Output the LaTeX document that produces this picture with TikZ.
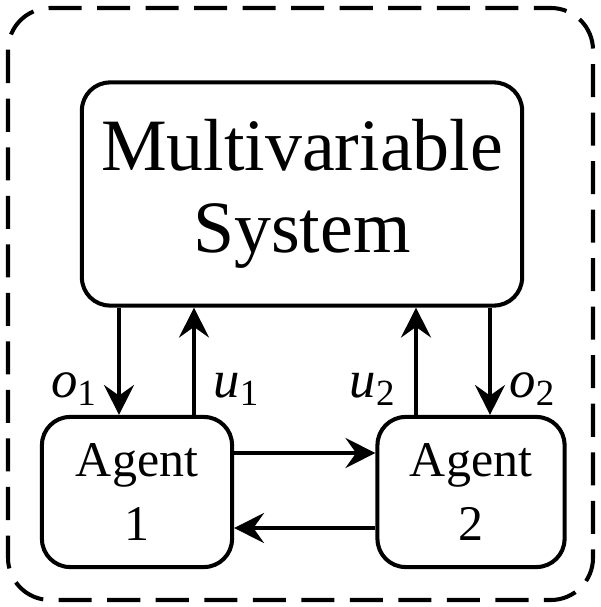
\documentclass[tikz,border=0pt]{standalone}
\usepackage{amsmath}
\usepackage{fontspec}
\setmainfont{Liberation Serif}
\usetikzlibrary{
	positioning,
	arrows.meta
}

\begin{document}
\begin{tikzpicture}[x=0.01cm,y=-0.01cm,
		block/.style={draw,line width=1.15pt,rounded corners=8pt,align=center,inner sep=0pt},
		flow/.style={line width=1.15pt,-{Stealth[length=8.5pt,width=8.5pt,inset=3pt]}},
		sig/.style={font=\fontsize{15}{15}\selectfont,inner sep=5pt}]
		\useasboundingbox (0,0) rectangle (600,607);

		% outer frame
		\draw[line width=1.15pt,dash pattern=on 9.4pt off 4.4pt,rounded corners=12pt]
			(8,8) rectangle (593,600);

		\node[block,minimum width=4.4cm,minimum height=2.23cm,
			font=\fontsize{21}{23.5}\selectfont] (sys) at (302,194) {Multivariable\\System};
		\node[block,minimum width=1.9cm,minimum height=1.5cm,
			font=\fontsize{14.2}{18}\selectfont] (ag1) at (137,492) {Agent\\1};
		\node[block,minimum width=1.87cm,minimum height=1.5cm,
			font=\fontsize{14.2}{18}\selectfont] (ag2) at (471,492) {Agent\\2};

		\coordinate (o1) at (119,0);
		\coordinate (u1) at (194,0);
		\coordinate (u2) at (416,0);
		\coordinate (o2) at (490,0);
		\coordinate (fwd) at (0,453);
		\coordinate (bwd) at (0,528);

		\draw[flow] (sys.south -| o1) -- node[sig,left,pos=0.76,xshift=-0.5pt] {$\textit{o}_\text{1}$} (ag1.north -| o1);
		\draw[flow] (ag1.north -| u1) -- node[sig,right,pos=0.24] {$\textit{u}_\text{1}$} (sys.south -| u1);
		\draw[flow] (ag2.north -| u2) -- node[sig,left,pos=0.24]  {$\textit{u}_\text{2}$} (sys.south -| u2);
		\draw[flow] (sys.south -| o2) -- node[sig,right,pos=0.76] {$\textit{o}_\text{2}$} (ag2.north -| o2);

		\draw[flow] (ag1.east |- fwd) -- (ag2.west |- fwd);
		\draw[flow] (ag2.west |- bwd) -- (ag1.east |- bwd);
	\end{tikzpicture}
\end{document}
